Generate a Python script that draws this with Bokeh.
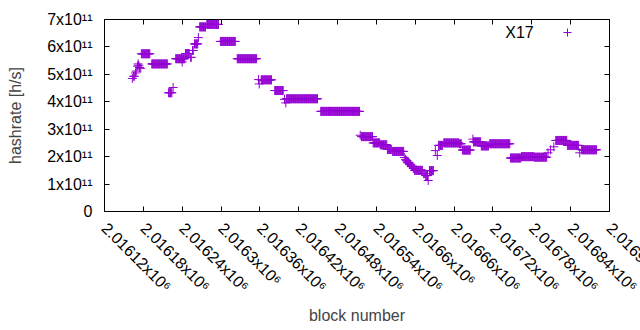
import math
import numpy as np
from bokeh.plotting import figure
from bokeh.models import (Range1d, FixedTicker, LinearAxis, Label, Legend,
                          LegendItem, ColumnDataSource)
from bokeh.embed import file_html
from bokeh.resources import INLINE

# ---- data: runs of consecutive blocks sharing one hashrate value ----
run_first = [2016163, 2016165, 2016168, 2016169, 2016171, 2016172, 2016173, 2016174, 2016176,
             2016177, 2016193, 2016219, 2016226, 2016230, 2016240, 2016245, 2016253, 2016256,
             2016259, 2016265, 2016267, 2016278, 2016299, 2016325, 2016358, 2016359, 2016362,
             2016383, 2016398, 2016400, 2016401, 2016454, 2016515, 2016517, 2016535, 2016546,
             2016557, 2016565, 2016583, 2016585, 2016586, 2016588, 2016591, 2016594, 2016597,
             2016599, 2016613, 2016616, 2016620, 2016622, 2016631, 2016634, 2016636, 2016644,
             2016668, 2016673, 2016689, 2016690, 2016702, 2016715, 2016747, 2016764, 2016784,
             2016805, 2016809, 2016814, 2016817, 2016835, 2016854, 2016857]
run_last = [2016163, 2016166, 2016168, 2016169, 2016171, 2016172, 2016173, 2016174, 2016176,
            2016190, 2016217, 2016224, 2016226, 2016244, 2016240, 2016251, 2016254, 2016257,
            2016264, 2016265, 2016276, 2016296, 2016322, 2016355, 2016358, 2016359, 2016378,
            2016396, 2016398, 2016400, 2016449, 2016514, 2016515, 2016534, 2016545, 2016556,
            2016563, 2016582, 2016583, 2016585, 2016587, 2016590, 2016593, 2016596, 2016598,
            2016611, 2016614, 2016619, 2016620, 2016628, 2016631, 2016634, 2016642, 2016667,
            2016671, 2016685, 2016689, 2016701, 2016713, 2016746, 2016763, 2016783, 2016803,
            2016805, 2016809, 2016814, 2016834, 2016852, 2016854, 2016880]
run_hashrate = [4.85e11, 4.93e11, 5.05e11, 5.12e11, 5.30e11, 5.38e11, 5.33e11, 5.25e11, 5.22e11,
                5.75e11, 5.38e11, 4.33e11, 4.52e11, 5.57e11, 5.45e11, 5.76e11, 5.62e11, 5.87e11,
                6.11e11, 6.34e11, 6.73e11, 6.82e11, 6.20e11, 5.57e11, 4.81e11, 4.65e11, 4.80e11,
                4.41e11, 4.09e11, 3.96e11, 4.11e11, 3.65e11, 2.78e11, 2.73e11, 2.50e11, 2.43e11,
                2.26e11, 2.19e11, 1.97e11, 1.90e11, 1.85e11, 1.78e11, 1.72e11, 1.65e11, 1.57e11,
                1.50e11, 1.38e11, 1.31e11, 1.13e11, 1.49e11, 2.22e11, 2.04e11, 2.41e11, 2.50e11,
                2.47e11, 2.24e11, 2.64e11, 2.54e11, 2.39e11, 2.47e11, 1.95e11, 2.00e11, 1.98e11,
                2.14e11, 2.25e11, 2.36e11, 2.59e11, 2.41e11, 2.14e11, 2.25e11]

series_name = "X17"

x_ticks = [2016120, 2016180, 2016240, 2016300, 2016360, 2016420, 2016480,
           2016540, 2016600, 2016660, 2016720, 2016780, 2016840, 2016900]
x_tick_labels = ["2.01612x10\u2076", "2.01618x10\u2076", "2.01624x10\u2076", "2.0163x10\u2076",
                 "2.01636x10\u2076", "2.01642x10\u2076", "2.01648x10\u2076", "2.01654x10\u2076",
                 "2.0166x10\u2076", "2.01666x10\u2076", "2.01672x10\u2076", "2.01678x10\u2076",
                 "2.01684x10\u2076", "2.0169x10\u2076"]
y_ticks = [0, 100000000000, 200000000000, 300000000000, 400000000000,
           500000000000, 600000000000, 700000000000]
y_tick_labels = ["0", "1x10\u00b9\u00b9", "2x10\u00b9\u00b9", "3x10\u00b9\u00b9", "4x10\u00b9\u00b9",
                 "5x10\u00b9\u00b9", "6x10\u00b9\u00b9", "7x10\u00b9\u00b9"]

# expand runs into one point per block
blocks = np.concatenate([np.arange(a, b + 1) for a, b in zip(run_first, run_last)])
rates = np.concatenate([np.full(b - a + 1, v) for a, b, v in zip(run_first, run_last, run_hashrate)])
src = ColumnDataSource(dict(block=blocks, rate=rates))

COLOR = "#9400D3"
FONT = "Liberation Sans"
FS = "16px"

# the canvas runs past the 640px window on the right, as the reference's last
# tick label does; the window crops it
p = figure(width=680, height=330, output_backend="svg", toolbar_location=None,
           x_range=Range1d(x_ticks[0], x_ticks[-1]), y_range=Range1d(y_ticks[0], y_ticks[-1]),
           min_border_left=104, min_border_right=71, min_border_top=19, min_border_bottom=119,
           x_axis_label="block number", y_axis_label="hashrate [h/s]")
p.grid.visible = False
p.outline_line_color = "black"
p.outline_line_width = 1
p.background_fill_color = "white"
p.border_fill_color = "white"

r = p.scatter("block", "rate", source=src, marker="cross", size=9,
              line_color=COLOR, line_width=1)

def style_axis(ax, show_labels):
    ax.axis_line_color = None
    ax.major_tick_in = 5
    ax.major_tick_out = 0
    ax.minor_tick_line_color = None
    ax.major_tick_line_color = "black"
    ax.major_label_text_font = FONT
    if show_labels:
        ax.major_label_text_font_size = FS
        ax.major_label_text_color = "black"
    else:
        ax.major_label_text_font_size = "1px"
        ax.major_label_text_color = None
        ax.major_label_standoff = 0

xa = p.xaxis[0]
xa.ticker = FixedTicker(ticks=x_ticks, minor_ticks=[])
xa.major_label_overrides = dict(zip(x_ticks, x_tick_labels))
style_axis(xa, True)
xa.major_label_orientation = -math.pi / 4
xa.major_label_standoff = 14
xa.axis_label_text_font = FONT
xa.axis_label_text_font_size = FS
xa.axis_label_text_font_style = "normal"
xa.axis_label_standoff = 3

ya = p.yaxis[0]
ya.ticker = FixedTicker(ticks=y_ticks, minor_ticks=[])
ya.major_label_overrides = dict(zip(y_ticks, y_tick_labels))
style_axis(ya, True)
ya.major_label_standoff = 12
ya.axis_label_text_font = FONT
ya.axis_label_text_font_size = FS
ya.axis_label_text_font_style = "normal"
ya.axis_label_standoff = 20

ra = LinearAxis(ticker=FixedTicker(ticks=y_ticks, minor_ticks=[]))
style_axis(ra, False)
p.add_layout(ra, "right")
ta = LinearAxis(ticker=FixedTicker(ticks=x_ticks, minor_ticks=[]))
style_axis(ta, False)
p.add_layout(ta, "above")

# legend: text left of the sample, as gnuplot draws it
p.add_layout(Label(x=2016783, y=6.53e11, text=series_name, text_align="right",
                   text_baseline="middle", text_font=FONT, text_font_size=FS,
                   text_color="black"))
leg = Legend(items=[LegendItem(label=" ", renderers=[r])], location=(453, 169),
             padding=0, margin=0, spacing=0, label_standoff=0, label_width=0,
             glyph_width=20, glyph_height=20, border_line_color=None,
             background_fill_alpha=0, label_text_font_size="1px", label_text_color=None)
p.add_layout(leg)

html = file_html(p, INLINE)
html = html.replace("<head>", "<head><style>html, body { overflow: hidden; }</style>", 1)
open("out.html", "w").write(html)
